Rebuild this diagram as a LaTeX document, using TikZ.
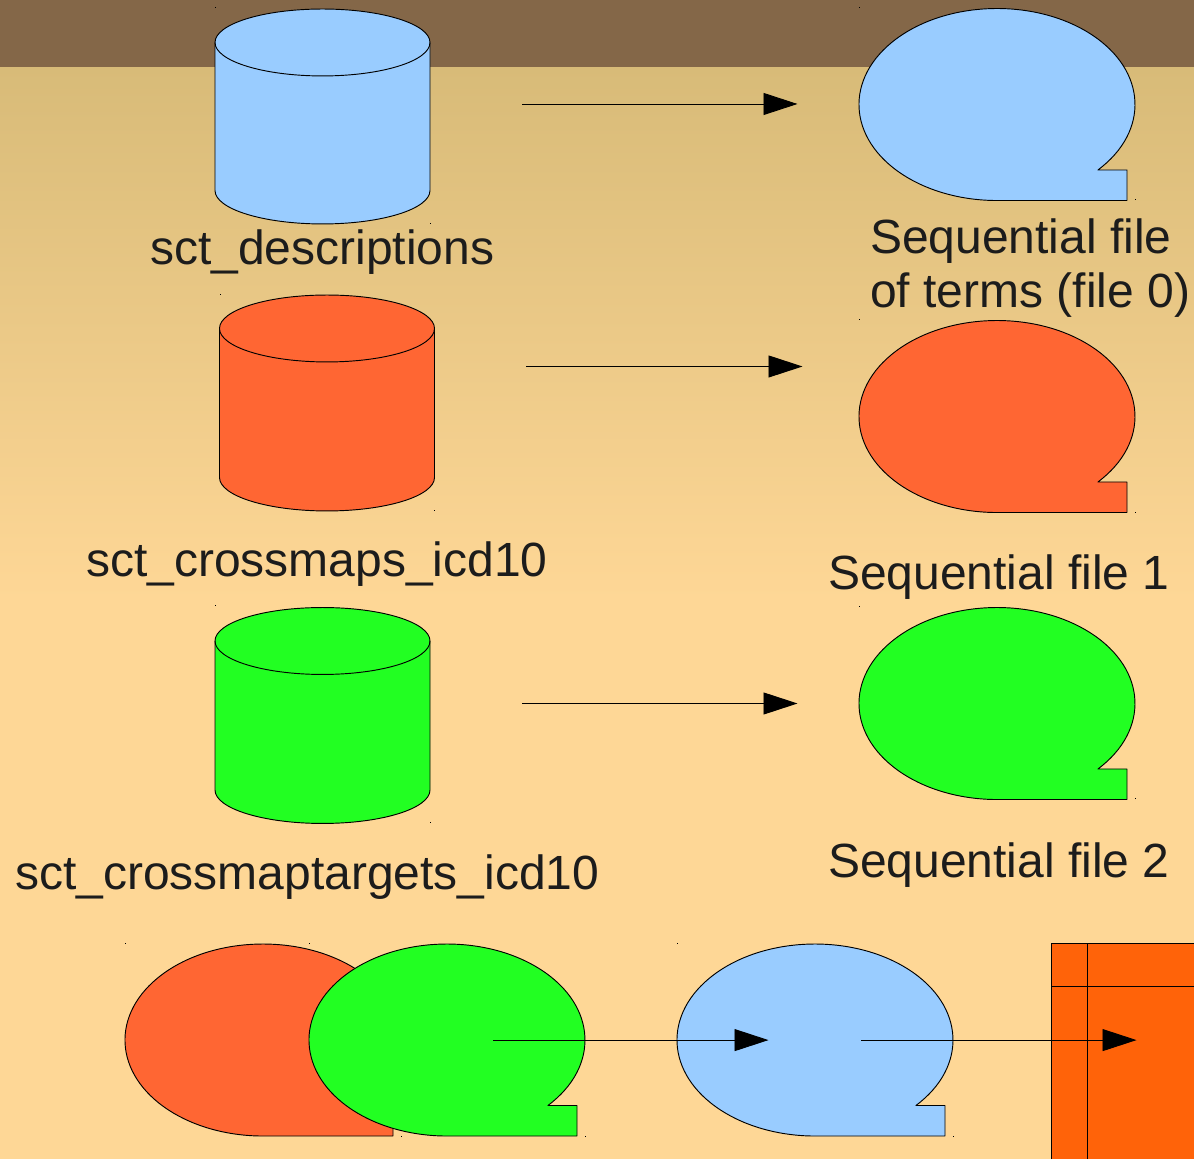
\documentclass[tikz,border=0pt]{standalone}
\usepackage{fontspec}
\setmainfont{Liberation Sans}
\usetikzlibrary{arrows.meta}
\definecolor{bandbrown}{RGB}{132,103,72}
\definecolor{gradtop}{RGB}{216,187,120}
\definecolor{gradbot}{RGB}{254,215,150}
\definecolor{fileblue}{RGB}{153,204,255}
\definecolor{filered}{RGB}{255,102,51}
\definecolor{filegreen}{RGB}{34,255,34}
\definecolor{tableorange}{RGB}{255,99,9}
\definecolor{labelink}{RGB}{28,28,28}
\tikzset{
  x=0.75pt,y=0.75pt,
  outline/.style={draw=black,line width=0.7pt,line join=round},
  flow/.style={draw=black,line width=0.7pt,-{Triangle[length=25.5pt,width=16.5pt]}},
  label/.style={anchor=base west,inner sep=0pt,outer sep=0pt,text=labelink,font=\fontsize{36pt}{41pt}\selectfont},
  speck/.style={fill=black,inner sep=0pt,minimum size=0.75pt,draw=none,shape=rectangle},
}
% can: #1 left x, #2 top y (image coords), #3 width, #4 height, #5 colour
\newcommand{\canshape}[5]{%
  \begin{scope}[shift={(#1,1159-#2)}]
    \path[outline,fill=#5] (0,-33.5) -- (0,-#4+33.5)
      arc[start angle=180,end angle=360,x radius=0.375pt*#3,y radius=25.1pt]
      -- (#3,-33.5)
      arc[start angle=0,end angle=180,x radius=0.375pt*#3,y radius=25.1pt] -- cycle;
    \path[outline] (0,-33.5)
      arc[start angle=180,end angle=360,x radius=0.375pt*#3,y radius=25.1pt];
  \end{scope}}
% speech bubble: #1 centre x, #2 centre y (image coords), #3 colour
\newcommand{\bubbleshape}[3]{%
  \begin{scope}[shift={(#1,1159-#2)}]
    \path[outline,fill=#3] (0,-96) -- (130,-96) -- (130,-65.5) -- (100.9,-65.5)
      arc[start angle=-43,end angle=270,x radius=103.5pt,y radius=72pt] -- cycle;
  \end{scope}}
\begin{document}
\begin{tikzpicture}
\useasboundingbox (0,0) rectangle (1194,1159);
\clip (0,0) rectangle (1194,1159);
% background
\fill[gradbot] (0,0) rectangle (1194,1159);
\shade[top color=gradtop,bottom color=gradbot,draw=none] (0,1159-600) rectangle (1194,1159-67);
\fill[bandbrown] (0,1159-67) rectangle (1194,1159);
% corner specks
\foreach \sx/\sy [count=\si] in {215.5/8,430/224,859/8,1135/200,220/295,434.5/511,859/320,1135/513,215.5/606,430/823,859/607,1135/799,125/943.5,309/943.5,401.5/1136,585/1136,677/943.5,953/1136}
  \node[speck] (speck\si) at (\sx,1159-\sy) {};
% table
\fill[tableorange] (1051.5,0) rectangle (1194,1159-943.5);
\draw[outline] (1051.5,0) -- (1051.5,1159-943.5) -- (1194,1159-943.5);
\draw[outline] (1087.5,0) -- (1087.5,1159-943.5);
\draw[outline] (1051.5,1159-986) -- (1194,1159-986);
% cans
\canshape{215}{9}{215}{215}{fileblue}
\canshape{219.5}{295}{215}{216}{filered}
\canshape{215}{607.5}{215}{216}{filegreen}
% bubbles
\bubbleshape{997}{104.5}{fileblue}
\bubbleshape{997}{416.5}{filered}
\bubbleshape{997}{703.5}{filegreen}
\bubbleshape{263}{1040}{filered}
\bubbleshape{447}{1040}{filegreen}
\bubbleshape{815}{1040}{fileblue}
% connector ends
\coordinate (a1) at (522,1159-104);   \coordinate (b1) at (797.5,1159-104);
\coordinate (a2) at (526,1159-366.5); \coordinate (b2) at (802.5,1159-366.5);
\coordinate (a3) at (522,1159-703.5); \coordinate (b3) at (797.5,1159-703.5);
\coordinate (a4) at (493,1159-1040.1);\coordinate (b4) at (768.5,1159-1040.1);
\coordinate (a5) at (861,1159-1040.1);\coordinate (b5) at (1136.5,1159-1040.1);
\foreach \i in {1,...,5} \draw[flow] (a\i) -- (b\i);
% labels
\node[label] (t1) at (150,1159-264.5) {sct\_descriptions};
\node[label] (t2) at (870,1159-253.5) {Sequential file};
\node[label] (t3) at (870,1159-307.5) {of terms (file 0)};
\node[label] (t4) at (86,1159-577) {sct\_crossmaps\_icd10};
\node[label] (t5) at (828,1159-589.5) {Sequential file 1};
\node[label] (t6) at (15,1159-889.5) {sct\_crossmaptargets\_icd10};
\node[label] (t7) at (828,1159-877.5) {Sequential file 2};
\end{tikzpicture}
\end{document}
